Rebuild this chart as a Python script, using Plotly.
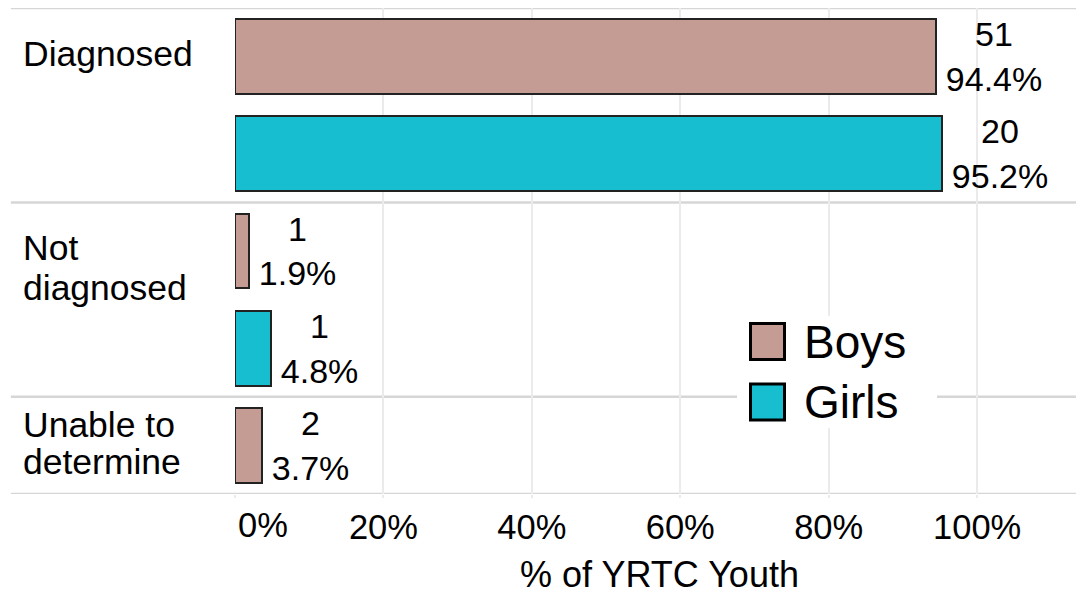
import plotly.graph_objects as go

# ---- data ----
categories = ["Diagnosed", "Not diagnosed", "Unable to determine"]
category_lines = [["Diagnosed"], ["Not", "diagnosed"], ["Unable to", "determine"]]
boys_counts = [51, 1, 2]
boys_pct = [94.4, 1.9, 3.7]
girls_counts = [20, 1, None]
girls_pct = [95.2, 4.8, None]
tick_vals = [0, 20, 40, 60, 80, 100]
tick_labels = ["0%", "20%", "40%", "60%", "80%", "100%"]

BOYS_COLOR = "#C49C94"
GIRLS_COLOR = "#17BECF"
FONT = "Liberation Sans, Arial, sans-serif"
TXT = "#000000"
PAD = "\u2009"  # thin space to separate label from bar end

# slot positions (one slot per existing bar)
boys_y, girls_y, group_bounds = [], [], [-0.5]
slot = 0
for i in range(len(categories)):
    boys_y.append(slot); slot += 1
    if girls_counts[i] is not None:
        girls_y.append(slot); slot += 1
    else:
        girls_y.append(None)
    group_bounds.append(slot - 0.5)

def series(counts, pct, ys):
    xs, yy, tx = [], [], []
    for c, p, y in zip(counts, pct, ys):
        if c is None:
            continue
        xs.append(p); yy.append(y); tx.append(f"{PAD}{c}<br>{PAD}{p:.1f}%")
    return xs, yy, tx

fig = go.Figure()
for name, counts, pct, ys, col in [("Boys", boys_counts, boys_pct, boys_y, BOYS_COLOR),
                                   ("Girls", girls_counts, girls_pct, girls_y, GIRLS_COLOR)]:
    xs, yy, tx = series(counts, pct, ys)
    fig.add_trace(go.Bar(
        x=xs, y=yy, orientation="h", name=name, width=0.77,
        marker=dict(color=col, line=dict(color="#222222", width=2)),
        text=tx, textposition="outside", cliponaxis=False, constraintext="none",
        textfont=dict(size=34, color=TXT, family=FONT),
        showlegend=False,
    ))

# category separator lines
for b in group_bounds:
    fig.add_shape(type="line", xref="paper", yref="y", x0=-0.264, x1=1, y0=b, y1=b,
                  line=dict(color="#d6d6d6", width=2.5), layer="below")

# category labels (one annotation per line)
label_shifts = [[3], [3, -37], [20, -17]]
for i, lines in enumerate(category_lines):
    for ln, sh in zip(lines, label_shifts[i]):
        fig.add_annotation(text=ln, xref="paper", yref="y", x=-0.2515, y=boys_y[i],
                           xanchor="left", yanchor="middle", yshift=sh, showarrow=False,
                           font=dict(size=35.5, color=TXT, family=FONT))

# "0%" tick label (left aligned at tick)
fig.add_annotation(text=tick_labels[0], xref="x", yref="paper", x=tick_vals[0], y=-0.0643,
                   xanchor="left", yanchor="middle", xshift=1, showarrow=False,
                   font=dict(size=34.5, color=TXT, family=FONT))

# manual legend
fig.add_shape(type="rect", xref="paper", yref="paper", x0=0.5913, x1=0.8269, y0=0.1358, y1=0.3663,
              fillcolor="white", line=dict(width=0), layer="above")
for nm, col, yc in [("Boys", BOYS_COLOR, 341.5), ("Girls", GIRLS_COLOR, 402)]:
    fig.add_shape(type="rect", xref="paper", yref="paper",
                  x0=(750.5 - 235) / 849, x1=(784.5 - 235) / 849,
                  y0=(494 - (yc + 18)) / 486, y1=(494 - (yc - 18)) / 486,
                  fillcolor=col, line=dict(color="black", width=3), layer="above")
    fig.add_annotation(text=nm, xref="paper", yref="paper", x=(802 - 235) / 849,
                       y=(494 - yc) / 486, xanchor="left", yanchor="middle", showarrow=False,
                       font=dict(size=46, color=TXT, family=FONT))

fig.update_layout(
    width=1076, height=587,
    margin=dict(l=227, r=0, t=0, b=101),
    plot_bgcolor="white", paper_bgcolor="white",
    font=dict(family=FONT, color=TXT),
    bargap=0,
    xaxis=dict(range=[0, 114.4], tickvals=tick_vals,
               ticktext=[""] + tick_labels[1:],
               showgrid=True, gridcolor="#ebebeb", gridwidth=2,
               ticks="outside", ticklen=3, tickcolor="#ebebeb", tickwidth=2,
               zeroline=False, showline=False,
               tickfont=dict(size=34.5, color=TXT, family=FONT),
               title=dict(text="% of YRTC Youth", font=dict(size=36, color=TXT, family=FONT),
                          standoff=20)),
    yaxis=dict(range=[group_bounds[-1], -0.5], showticklabels=False, showgrid=False,
               zeroline=False, showline=False, ticks=""),
)

fig.write_html("out.html")
